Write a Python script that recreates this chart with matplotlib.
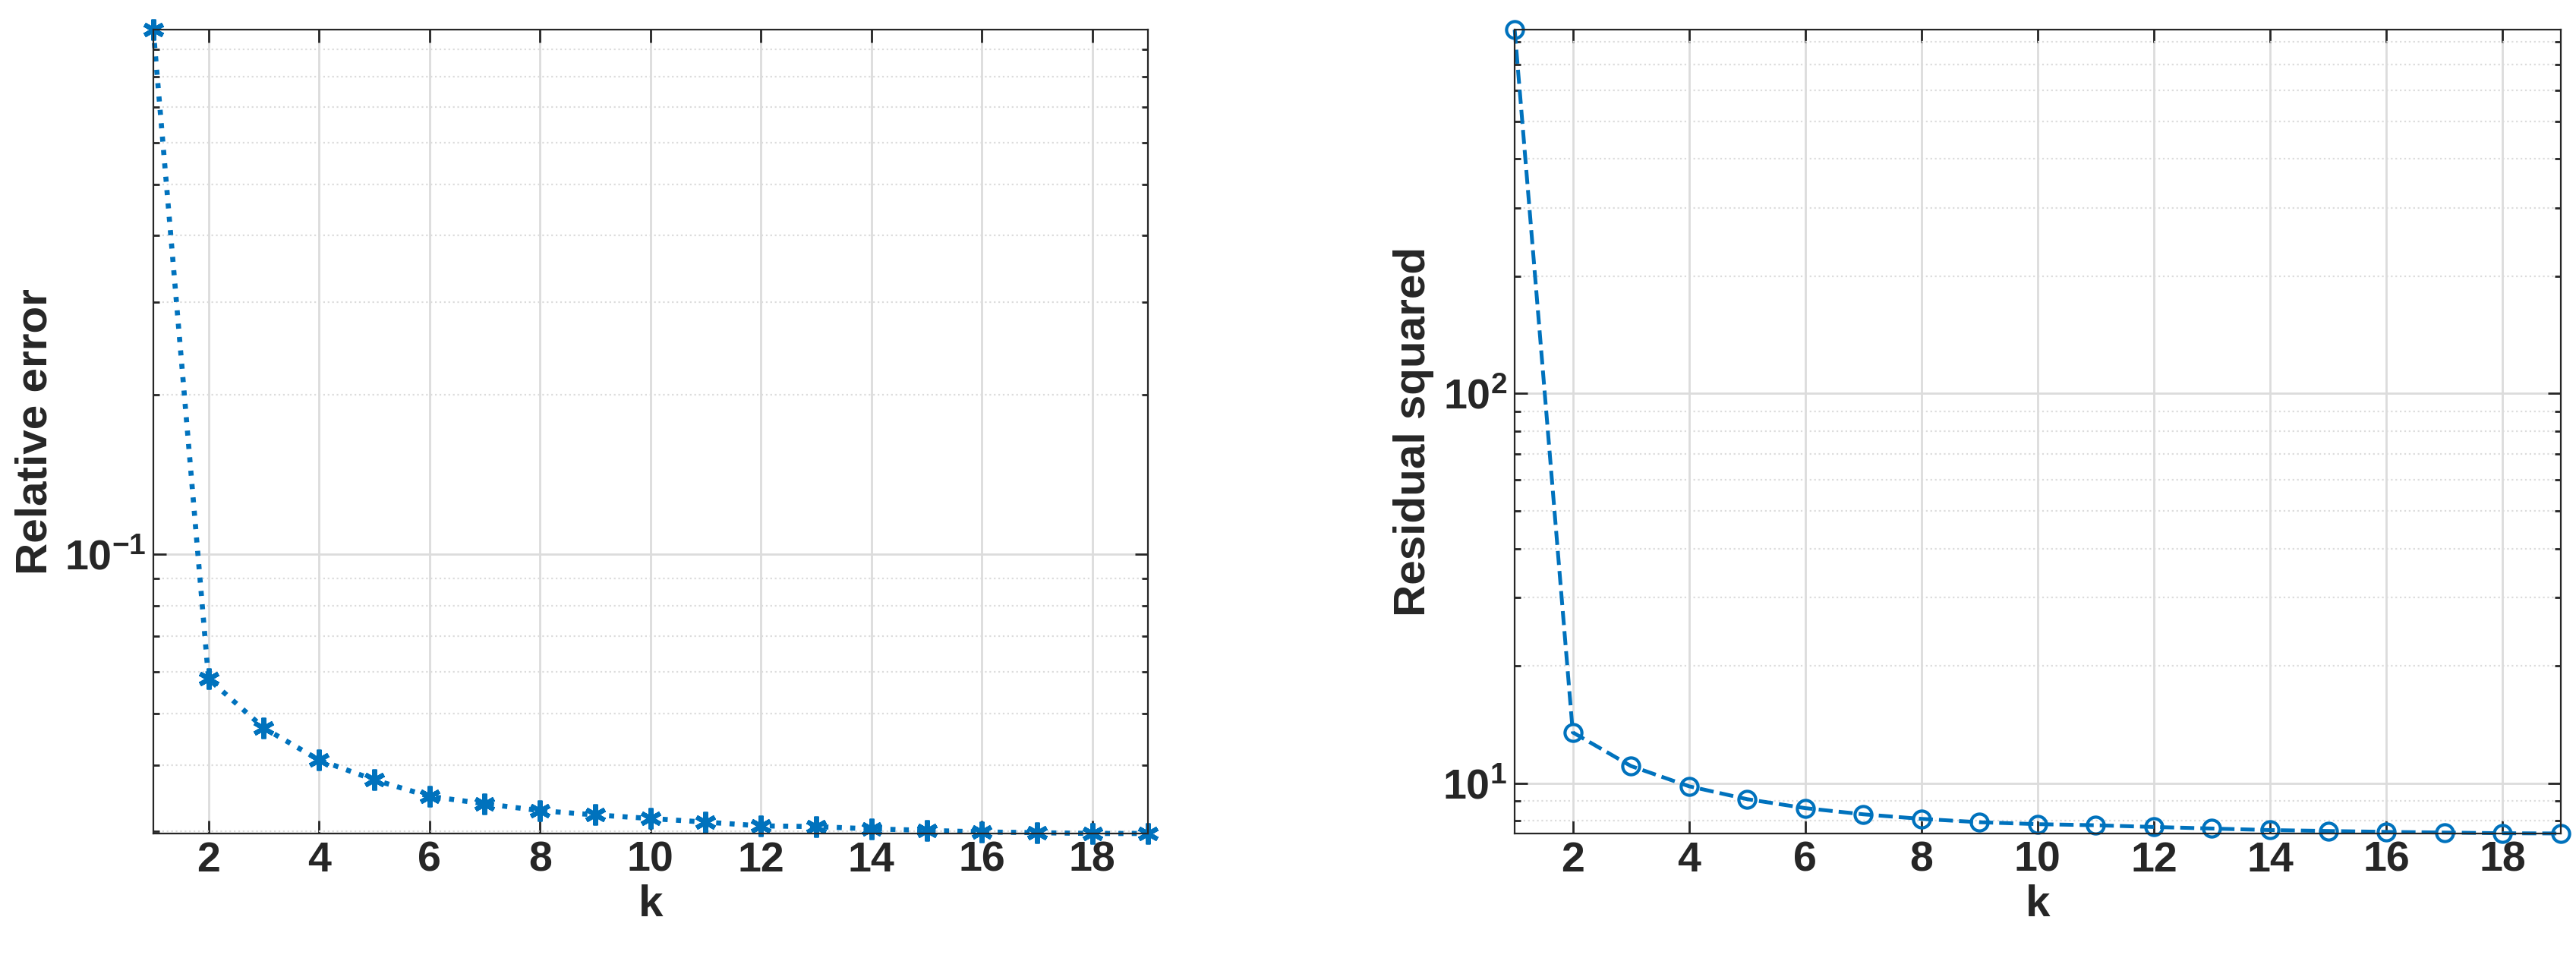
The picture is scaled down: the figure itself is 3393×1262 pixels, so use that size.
import numpy as np
import matplotlib
matplotlib.use('Agg')
import matplotlib.pyplot as plt
from matplotlib.ticker import LogLocator, NullFormatter

plt.rcParams['font.family'] = ['Liberation Sans', 'DejaVu Sans']
plt.rcParams['font.weight'] = 'bold'
plt.rcParams['mathtext.default'] = 'bf'

k = np.arange(1, 20)
rel_error = [0.98, 0.0582, 0.0470, 0.0409, 0.0375, 0.0349, 0.0338, 0.0328, 0.0322,
             0.0317, 0.0312, 0.0307, 0.0306, 0.0303, 0.0301, 0.0299, 0.0298, 0.0297, 0.0297]
resid_sq = [859, 13.5, 11.07, 9.82, 9.10, 8.63, 8.32, 8.10, 7.94, 7.85, 7.80,
            7.72, 7.65, 7.58, 7.54, 7.50, 7.47, 7.44, 7.43]
xticks = list(range(2, 20, 2))

BLUE = '#0072BD'

fig = plt.figure(figsize=(16.965, 6.31), dpi=200)
ax1 = fig.add_axes([0.0595, 0.13, 0.386, 0.839])
ax2 = fig.add_axes([0.588, 0.13, 0.406, 0.839])


def estilo(ax, ylabel, ylim):
    ax.set_yscale('log')
    ax.set_xlim(1, 19)
    ax.set_ylim(*ylim)
    ax.set_xticks(xticks)
    ax.yaxis.set_minor_locator(LogLocator(subs=np.arange(2, 10)))
    ax.yaxis.set_minor_formatter(NullFormatter())
    ax.grid(True, which='major', color='#dcdcdc', lw=1.0)
    ax.grid(True, which='minor', color='#dcdcdc', lw=0.8, ls=':')
    ax.tick_params(direction='in', which='both', top=True, right=True,
                   labelsize=20, width=1.0, length=6, colors='#262626')
    ax.tick_params(which='minor', length=3)
    for s in ax.spines.values():
        s.set_color('#262626')
    ax.set_xlabel('k', fontsize=21, fontweight='bold', color='#262626', labelpad=2)
    ax.set_ylabel(ylabel, fontsize=21, fontweight='bold', color='#262626')
    ax.set_axisbelow(True)


ax1.plot(k, rel_error, ls=':', lw=2.4, color=BLUE, marker=(6, 2, 0), ms=10,
         markeredgewidth=2.2, clip_on=False)
estilo(ax1, 'Relative error', (0.0297, 0.98))

ax2.plot(k, resid_sq, ls='--', lw=1.8, color=BLUE, marker='o', ms=8,
         markerfacecolor='none', markeredgewidth=1.5, clip_on=False)
estilo(ax2, 'Residual squared', (7.43, 859))

fig.savefig('out.png', dpi=200)
